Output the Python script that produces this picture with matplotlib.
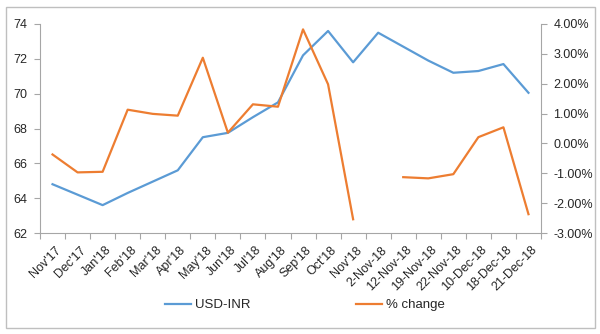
import numpy as np
import matplotlib
matplotlib.use("Agg")
import matplotlib.pyplot as plt
from matplotlib.patches import Rectangle
from matplotlib.ticker import FuncFormatter, MultipleLocator

plt.rcParams['font.family'] = ['Liberation Sans', 'DejaVu Sans']

labels = ["Nov'17", "Dec'17", "Jan'18", "Feb'18", "Mar'18", "Apr'18", "May'18",
          "Jun'18", "Jul'18", "Aug'18", "Sep'18", "Oct'18", "Nov'18", "2-Nov-18",
          "12-Nov-18", "19-Nov-18", "22-Nov-18", "10-Dec-18", "18-Dec-18", "21-Dec-18"]

usd_inr = [64.8, 64.2, 63.6, 64.3, 64.95, 65.6, 67.5, 67.75, 68.65, 69.5,
           72.2, 73.6, 71.8, 73.5, 72.7, 71.9, 71.2, 71.3, 71.7, 70.05]

pct_change = [-0.37, -0.97, -0.95, 1.13, 0.99, 0.93, 2.87, 0.36, 1.31, 1.23,
              3.82, 1.98, -2.54, np.nan, -1.13, -1.17, -1.03, 0.21, 0.54, -2.37]

blue = '#5B9BD5'
orange = '#ED7D31'
grey = '#A6A6A6'
txt = '#262626'

x = np.arange(len(labels))

fig = plt.figure(figsize=(6.0, 3.34), dpi=100)
fig.patch.set_facecolor('w')
ax = fig.add_axes([40/600, 1 - 233/334, 501/600, 209/334])
ax2 = ax.twinx()

l1, = ax.plot(x, usd_inr, color=blue, lw=1.6, label='USD-INR')
l2, = ax2.plot(x, np.array(pct_change) / 100, color=orange, lw=1.6, label='% change')

ax.set_xlim(-0.5, len(labels) - 0.5)
ax.set_ylim(62, 74)
ax.yaxis.set_major_locator(MultipleLocator(2))
ax2.set_ylim(-0.03, 0.04)
ax2.yaxis.set_major_locator(MultipleLocator(0.01))
ax2.yaxis.set_major_formatter(FuncFormatter(lambda v, p: '%.2f%%' % (v * 100)))

# category ticks sit on the boundaries, labels under the centres
ax.set_xticks(np.arange(-0.5, len(labels)), minor=False)
ax.set_xticklabels([])
ax.set_xticks(x + 0.1, minor=True)
ax.set_xticklabels(labels, minor=True, rotation=45, ha='right', va='top',
                   rotation_mode='anchor', fontsize=9, color=txt)
ax.tick_params(axis='x', which='minor', length=0, pad=8)
ax.tick_params(axis='x', which='major', length=4, color=grey, direction='out')

for a in (ax, ax2):
    a.spines['top'].set_visible(False)
    for s in ('left', 'right', 'bottom'):
        a.spines[s].set_color(grey)
    a.tick_params(axis='y', length=4, color=grey, labelsize=9, labelcolor=txt, pad=5)
ax.spines['right'].set_visible(False)
ax2.spines['left'].set_visible(False)
ax2.spines['bottom'].set_visible(False)

fig.legend(handles=[l1, l2], loc='center', bbox_to_anchor=(305/600, 1 - 305/334),
           ncol=2, frameon=False, fontsize=9.5, columnspacing=8.0, handlelength=2.0,
           handletextpad=0.3, labelcolor=txt)

fig.patches.append(Rectangle((6/600, 1 - 328/334), 589/600, 321/334, transform=fig.transFigure,
                             fill=False, edgecolor='#BFBFBF', lw=1.0))

fig.savefig('out.png', dpi=100)
